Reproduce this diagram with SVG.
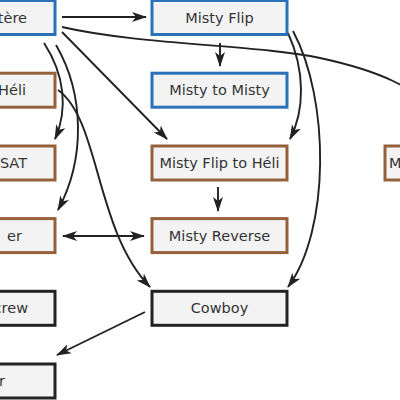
<svg xmlns="http://www.w3.org/2000/svg" width="400" height="400" viewBox="0 0 400 400">
<style>
.box{fill:#f3f3f3;stroke-width:3}
.blue{stroke:#2b72b8}
.brown{stroke:#95613d}
.dark{stroke:#222}
.lbl{font-family:"DejaVu Sans","Liberation Sans",sans-serif;font-size:14.5px;fill:#333}
.c{text-anchor:middle}
.e{text-anchor:end}
.edge{fill:none;stroke:#222;stroke-width:1.9;marker-end:url(#ah)}
</style>
<defs>
<marker id="ah" markerUnits="userSpaceOnUse" markerWidth="16" markerHeight="12" refX="14" refY="5.5" orient="auto-start-reverse" viewBox="0 0 16 11">
<path d="M0,0.5 L15,5.5 L0,10.5 L4,5.5 z" fill="#222"/>
</marker>
</defs>
<rect width="400" height="400" fill="#fff"/>
<g id="connectors">
<path class="edge" d="M62,17 L146,17"/>
<path class="edge" d="M62,27 C140,45 260,45 320,58 S410,85 450,120"/>
<path class="edge" d="M220,43 L220,66"/>
<path class="edge" d="M62,32 L167,139"/>
<path class="edge" d="M44,43 C65,75 68,110 55,139"/>
<path class="edge" d="M56,45 C85,95 85,160 58,210"/>
<path class="edge" d="M58,90 C100,120 95,230 150,287"/>
<path class="edge" d="M288,33 C305,70 305,110 290,139"/>
<path class="edge" d="M293,31 C330,100 330,230 288,287"/>
<path class="edge" d="M218,187 L218,211"/>
<path class="edge" style="marker-start:url(#ah)" d="M63,236 L144,236"/>
<path class="edge" d="M145,312 L57,355"/>
</g>
<g id="n-helicoptere"><rect class="box blue" x="-80" y="0.5" width="135" height="34"/><text class="lbl e" x="27" y="22.5">tère</text></g>
<g id="n-misty-flip"><rect class="box blue" x="152" y="0.5" width="135" height="34"/><text class="lbl c" x="219.5" y="22.5">Misty Flip</text></g>
<g id="n-heli"><rect class="box brown" x="-80" y="73.2" width="135" height="34"/><text class="lbl e" x="26" y="95">Héli</text></g>
<g id="n-misty-to-misty"><rect class="box blue" x="152" y="73.2" width="135" height="34"/><text class="lbl c" x="219.5" y="95">Misty to Misty</text></g>
<g id="n-sat"><rect class="box brown" x="-80" y="146" width="135" height="34"/><text class="lbl e" x="27" y="168">SAT</text></g>
<g id="n-misty-flip-heli"><rect class="box brown" x="152" y="146" width="135" height="34"/><text class="lbl c" x="219.5" y="168">Misty Flip to Héli</text></g>
<g id="n-right"><rect class="box brown" x="385" y="146" width="135" height="34"/><text class="lbl" x="389" y="168">M</text></g>
<g id="n-er"><rect class="box brown" x="-80" y="218.6" width="135" height="34"/><text class="lbl e" x="22" y="240.5">er</text></g>
<g id="n-misty-reverse"><rect class="box brown" x="152" y="218.6" width="135" height="34"/><text class="lbl c" x="219.5" y="240.5">Misty Reverse</text></g>
<g id="n-crew"><rect class="box dark" x="-80" y="291.3" width="135" height="34"/><text class="lbl e" x="28" y="313">crew</text></g>
<g id="n-cowboy"><rect class="box dark" x="152" y="291.3" width="135" height="34"/><text class="lbl c" x="219.5" y="313">Cowboy</text></g>
<g id="n-r"><rect class="box dark" x="-80" y="364" width="135" height="34"/><text class="lbl e" x="5" y="386">r</text></g>
</svg>
